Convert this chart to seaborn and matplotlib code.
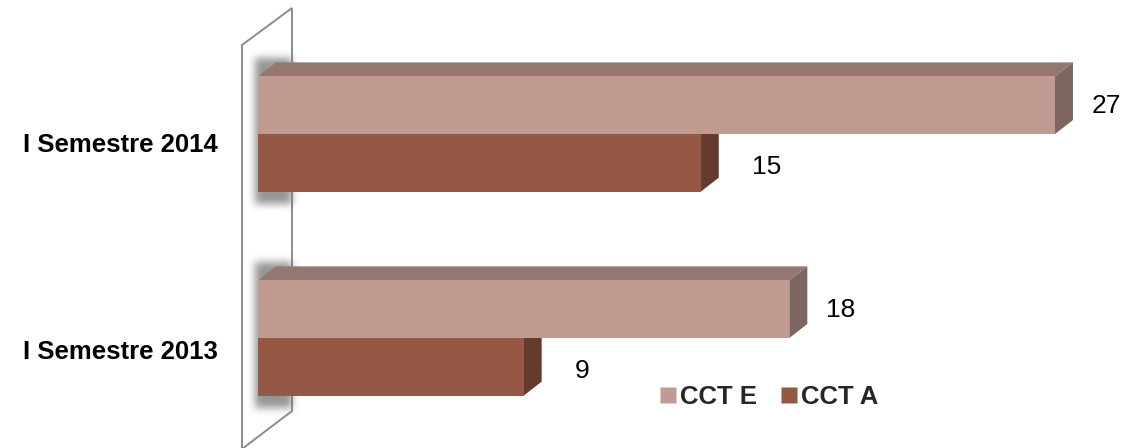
import matplotlib
matplotlib.use("Agg")
import matplotlib.pyplot as plt
import seaborn as sns
import pandas as pd
import numpy as np
from matplotlib.patches import Polygon
from matplotlib.lines import Line2D

# ---- data ----
categories = ["I Semestre 2014", "I Semestre 2013"]
series = ["CCT E", "CCT A"]
cct_e = [27, 18]
cct_a = [15, 9]

front_colors = {"CCT E": "#C19B91", "CCT A": "#955845"}
top_colors = {"CCT E": "#937770", "CCT A": "#6E4233"}
side_colors = {"CCT E": "#7E6660", "CCT A": "#653B2D"}

sns.set_theme(style="white")
plt.rcParams['font.family'] = ['Liberation Sans', 'DejaVu Sans']

W, H, DPI = 1131, 448, 100
fig = plt.figure(figsize=(W / DPI, H / DPI), dpi=DPI)

# axes placement in pixels
ax_left_px, ax_right_px = 258, 1055
ax_top_px, ax_bot_px = 30, 440
ax = fig.add_axes([ax_left_px / W, 1 - ax_bot_px / H,
                   (ax_right_px - ax_left_px) / W, (ax_bot_px - ax_top_px) / H])
ax.set_zorder(1)


def fp(x, y):
    return (x / W, 1 - y / H)


# wall (figure pixel coords)
wall = Polygon([fp(242, 45), fp(292, 8), fp(292, 411), fp(242, 449)],
               closed=True, facecolor="white", edgecolor="#8C8C8C", lw=1.4,
               transform=fig.transFigure, zorder=-2)
fig.patches.append(wall)

# soft blurred shadows on the wall behind each bar group
mask = np.zeros((H, W))
for yc in [134, 338]:
    mask[yc - 76:yc + 70, 255:292] = 1.0
sig = 4.0
k = np.arange(-12, 13)
g = np.exp(-k ** 2 / (2 * sig ** 2))
g /= g.sum()
blur = np.apply_along_axis(lambda r: np.convolve(r, g, mode="same"), 1, mask)
blur = np.apply_along_axis(lambda c: np.convolve(c, g, mode="same"), 0, blur)
rgba = np.zeros((H, W, 4))
rgba[..., :3] = 0.45
rgba[..., 3] = blur * 0.75
fig.figimage(rgba, xo=0, yo=0, origin="upper", zorder=-1)

df = pd.DataFrame({
    "cat": categories * 2,
    "series": [series[0]] * len(categories) + [series[1]] * len(categories),
    "val": cct_e + cct_a,
})

width = 0.565
sns.barplot(data=df, y="cat", x="val", hue="series", order=categories,
            hue_order=series, orient="h", width=width, dodge=True,
            palette=front_colors, ax=ax, legend=False, saturation=1,
            edgecolor="none", zorder=5)

xmax = 27
ax.set_xlim(0, xmax)
ypix = 204.0  # pixels per category unit
ax.set_ylim((ax_bot_px - 134) / ypix, (ax_top_px - 134) / ypix)

px_x = xmax / (ax_right_px - ax_left_px)
px_y = 1 / ypix
ddx = 18 * px_x
ddy = 14 * px_y

for bar_patches, s in zip([ax.containers[0], ax.containers[1]], series):
    for p in bar_patches:
        p.set_clip_on(False)
        v = p.get_width()
        y0 = p.get_y()
        y1 = y0 + p.get_height()
        top = Polygon([(0, y0), (ddx, y0 - ddy), (v + ddx, y0 - ddy), (v, y0)],
                      closed=True, facecolor=top_colors[s], edgecolor="none",
                      zorder=3, clip_on=False)
        side = Polygon([(v, y0), (v + ddx, y0 - ddy), (v + ddx, y1 - ddy), (v, y1)],
                       closed=True, facecolor=side_colors[s], edgecolor="none",
                       zorder=3, clip_on=False)
        ax.add_patch(top)
        ax.add_patch(side)
        gap = 19 if s == "CCT E" else 33
        dy_lab = 1 if s == "CCT E" else 4
        ax.text(v + ddx + gap * px_x, (y0 + y1) / 2 + dy_lab * px_y, f"{int(v)}",
                ha="left", va="center", fontsize=19, color="black", clip_on=False)

ax.set_xlabel("")
ax.set_ylabel("")
ax.set_xticks([])
ax.set_yticks([])
for sp in ax.spines.values():
    sp.set_visible(False)
ax.patch.set_alpha(0)

# category labels
for i, c in enumerate(categories):
    fig.text(218 / W, 1 - (145 + i * 207) / H, c, ha="right", va="center",
             fontsize=18.5, fontweight="bold", color="black")

handles = [Line2D([0], [0], marker="s", color="none", markerfacecolor=front_colors[s],
                  markeredgecolor="none", markersize=11) for s in series]
leg = fig.legend(handles, series, loc="center", bbox_to_anchor=(770 / W, 1 - 397 / H),
                 ncol=2, frameon=False, handlelength=0.5, handletextpad=0.2,
                 columnspacing=1.0, prop={"weight": "bold", "size": 18.5})
leg.set_zorder(10)

fig.savefig("out.png", dpi=DPI)
